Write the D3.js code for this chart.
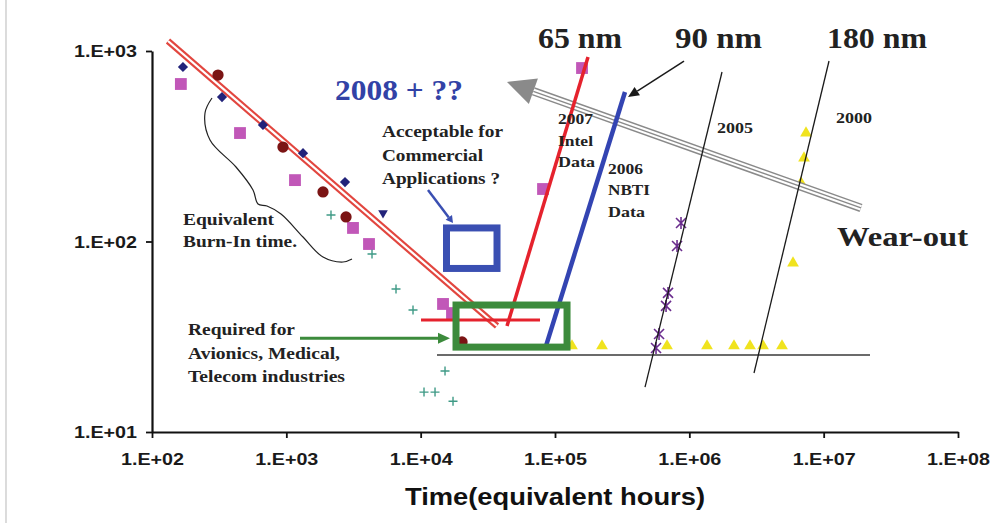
<!DOCTYPE html>
<html>
<head>
<meta charset="utf-8">
<script src="https://cdn.jsdelivr.net/npm/d3@7"></script>
<style>
  html, body { margin: 0; padding: 0; background: #fff; }
  svg { display: block; }
</style>
</head>
<body>
<svg id="chart" width="995" height="523"></svg>
<script>
// ---------- data (time in equivalent hours, y = failure rate) ----------
const xTickValues = [1e2, 1e3, 1e4, 1e5, 1e6, 1e7, 1e8];
const xTickLabels = ["1.E+02", "1.E+03", "1.E+04", "1.E+05", "1.E+06", "1.E+07", "1.E+08"];
const yTickValues = [1e1, 1e2, 1e3];
const yTickLabels = ["1.E+01", "1.E+02", "1.E+03"];
const xAxisTitle = "Time(equivalent hours)";

const navyDiamonds = [[170, 824], [332, 573], [670, 409], [1331, 291], [2734, 205]];
const navyTriangle = [[5245, 141]];
const darkRedCircles = [[310, 748], [944, 313], [1875, 182], [2782, 134.5], [20320, 29.7]];
const pinkSquares = [[164, 671], [452, 371], [1160, 210], [3135, 117.8], [4125, 97], [14670, 47], [17110, 42.1], [81440, 188.6], [158900, 814]];
const tealPlus = [[2150, 137.8], [4343, 86], [6553, 56.3], [8770, 43.7], [15180, 20.9], [10590, 16.2], [12790, 16.2], [17410, 14.5]];
const purpleStars = [[867000, 125], [810000, 94.7], [694000, 53.7], [671000, 45.9], [595000, 32.7], [565000, 27.6]];
const yellowTriangles = [[133800, 28.3], [223900, 28.3], [682000, 28.3], [1354000, 28.3], [2150000, 28.3], [2829000, 28.3], [3536000, 28.3], [4898000, 28.3], [7390000, 371], [7140000, 274], [6783000, 203], [5914000, 77.1]];

const burnInLine = [[131.5, 1128], [37010, 36.0]];
const redHLine = [[10060, 38.7], [77350, 38.7]];
const intel65Line = [[43930, 36.0], [176100, 930]];
const nbti2006Line = [[85730, 28.3], [332000, 609]];
const line90nm = [[467900, 17.2], [1751000, 776]];
const line180nm = [[3030000, 20.4], [10960000, 886]];
const baseLine = [[13230, 25.4], [22130000, 25.4]];
const wearOutArrow = [[18970000, 150], [43930, 688]];
const greenBox = [[18330, 46.4], [122900, 27.9]];
const blueBox = [[15570, 117.8], [37010, 72.2]];
const blueArrow = [[11340, 186.3], [17410, 125]];
const greenArrow = [[1264, 31.1], [16530, 31.1]];
const blackArrow = [[912800, 886], [349600, 573]];

// ---------- setup ----------
const svg = d3.select("#chart");
const x = d3.scaleLog().domain([1e2, 1e8]).range([152, 958]);
const y = d3.scaleLog().domain([10, 1000]).range([432, 51]);
const P = d => [x(d[0]), y(d[1])];

const SERIF = "'Liberation Serif', 'Times New Roman', serif";
const SANS = "'Liberation Sans', Arial, sans-serif";

// frame line on the left
svg.append("line").attr("x1", 6).attr("x2", 6).attr("y1", 0).attr("y2", 523)
  .attr("stroke", "#c4c4c4").attr("stroke-width", 1.2);

function seg(data, color, width, g) {
  const a = P(data[0]), b = P(data[1]);
  return (g || svg).append("line").attr("x1", a[0]).attr("y1", a[1]).attr("x2", b[0]).attr("y2", b[1])
    .attr("stroke", color).attr("stroke-width", width).attr("stroke-linecap", "butt");
}
function head(tip, from, len, hw, color) {
  const dx = tip[0] - from[0], dy = tip[1] - from[1];
  const L = Math.hypot(dx, dy), ux = dx / L, uy = dy / L;
  const bx = tip[0] - ux * len, by = tip[1] - uy * len;
  svg.append("polygon").attr("points", [
    [tip[0], tip[1]], [bx - uy * hw, by + ux * hw], [bx + uy * hw, by - ux * hw]
  ].map(p => p.join(",")).join(" ")).attr("fill", color);
  return [bx, by];
}
function label(t, lx, ly, size, width, opts = {}) {
  const el = svg.append("text").attr("x", lx).attr("y", ly)
    .attr("font-family", opts.family || SERIF).attr("font-weight", "bold")
    .attr("font-size", size).attr("fill", opts.color || "#222")
    .text(t);
  if (width) el.attr("textLength", width).attr("lengthAdjust", "spacingAndGlyphs");
  return el;
}

// ---------- axes ----------
const xAxis = svg.append("g").attr("transform", "translate(0,432)")
  .call(d3.axisBottom(x).tickValues(xTickValues).tickFormat((d, i) => xTickLabels[i]).tickSize(6).tickSizeOuter(0));
const yAxis = svg.append("g").attr("transform", "translate(152,0)")
  .call(d3.axisLeft(y).tickValues(yTickValues).tickFormat((d, i) => yTickLabels[i]).tickSize(6).tickSizeOuter(0));
[xAxis, yAxis].forEach(g => {
  g.select(".domain").attr("stroke", "#111").attr("stroke-width", 2.2);
  g.selectAll(".tick line").attr("stroke", "#111").attr("stroke-width", 1.8);
  g.selectAll(".tick text").attr("font-family", SANS).attr("font-weight", "bold")
    .attr("font-size", 16).attr("fill", "#1a1a1a")
    .attr("textLength", 63).attr("lengthAdjust", "spacingAndGlyphs");
});
xAxis.selectAll(".tick text").attr("y", 0).attr("dy", 0).attr("transform", "translate(0,33)");
yAxis.selectAll(".tick text").attr("x", -15).attr("dy", "0.36em");

svg.append("text").attr("x", 555).attr("y", 505).attr("text-anchor", "middle")
  .attr("font-family", SANS).attr("font-weight", "bold").attr("font-size", 23).attr("fill", "#111")
  .attr("textLength", 300).attr("lengthAdjust", "spacingAndGlyphs")
  .text(xAxisTitle);

// ---------- burn-in double line ----------
seg(burnInLine, "#e2463f", 6.5);
seg(burnInLine, "#ffffff", 2.2);

// ---------- markers ----------
const sym = d3.symbol();
svg.append("g").selectAll("path").data(navyDiamonds).join("path")
  .attr("transform", d => `translate(${P(d)}) rotate(45)`)
  .attr("d", sym.type(d3.symbolSquare).size(52)()).attr("fill", "#22237a");
svg.append("g").selectAll("path").data(navyTriangle).join("path")
  .attr("transform", d => `translate(${P(d)}) rotate(180)`)
  .attr("d", d3.symbol().type(d3.symbolTriangle).size(40)()).attr("fill", "#22237a");
svg.append("g").selectAll("path").data(pinkSquares).join("path")
  .attr("transform", d => `translate(${P(d)})`)
  .attr("d", d3.symbol().type(d3.symbolSquare).size(140)()).attr("fill", "#c157b8");
svg.append("g").selectAll("path").data(darkRedCircles).join("path")
  .attr("transform", d => `translate(${P(d)})`)
  .attr("d", d3.symbol().type(d3.symbolCircle).size(100)()).attr("fill", "#7b1414");
svg.append("g").selectAll("path").data(tealPlus).join("path")
  .attr("transform", d => `translate(${P(d)})`)
  .attr("d", "M-4.5,0H4.5M0,-4.5V4.5").attr("stroke", "#3f9a86").attr("stroke-width", 1.4).attr("fill", "none");
svg.append("g").selectAll("path").data(purpleStars).join("path")
  .attr("transform", d => `translate(${P(d)})`)
  .attr("d", "M-5,-5L5,5M-5,5L5,-5M0,-6V6").attr("stroke", "#6b2d8e").attr("stroke-width", 1.6).attr("fill", "none");
svg.append("g").selectAll("path").data(yellowTriangles).join("path")
  .attr("transform", d => `translate(${P(d)})`)
  .attr("d", d3.symbol().type(d3.symbolTriangle).size(60)()).attr("fill", "#f0e31e");

// ---------- wear-out arrow (under the technology lines) ----------
{
  const tail = P(wearOutArrow[0]), tip = P(wearOutArrow[1]);
  const base = head(tip, tail, 28, 13.5, "#8a8a8a");
  [[8.5, "#8a8a8a"], [5.5, "#ffffff"], [1.4, "#8a8a8a"]].forEach(([w, c]) => {
    svg.append("line").attr("x1", tail[0]).attr("y1", tail[1])
      .attr("x2", base[0]).attr("y2", base[1])
      .attr("stroke", c).attr("stroke-width", w);
  });
}

// ---------- reference lines ----------
seg(baseLine, "#3a3a3a", 1.5);
seg(line90nm, "#1a1a1a", 1.3);
seg(line180nm, "#1a1a1a", 1.3);

// ---------- technology lines ----------
seg(redHLine, "#e5222d", 3);
seg(intel65Line, "#e5222d", 3.5);
seg(nbti2006Line, "#3344b2", 4.5);

// ---------- boxes ----------
function box(data, color) {
  const a = P(data[0]), b = P(data[1]);
  svg.append("rect").attr("x", Math.min(a[0], b[0])).attr("y", Math.min(a[1], b[1]))
    .attr("width", Math.abs(b[0] - a[0])).attr("height", Math.abs(b[1] - a[1]))
    .attr("fill", "none").attr("stroke", color).attr("stroke-width", 7);
}
box(greenBox, "#3c8b3c");
box(blueBox, "#3a4fb2");

// ---------- annotation arrows ----------
{
  const a = P(blueArrow[0]), b = P(blueArrow[1]);
  const base = head(b, a, 7, 4, "#3a4fb2");
  svg.append("line").attr("x1", a[0]).attr("y1", a[1]).attr("x2", base[0]).attr("y2", base[1])
    .attr("stroke", "#3a4fb2").attr("stroke-width", 2.5);
}
{
  const a = P(greenArrow[0]), b = P(greenArrow[1]);
  const base = head(b, a, 12, 5.5, "#3c8b3c");
  svg.append("line").attr("x1", a[0]).attr("y1", a[1]).attr("x2", base[0]).attr("y2", base[1])
    .attr("stroke", "#3c8b3c").attr("stroke-width", 3);
}
{
  const a = P(blackArrow[0]), b = P(blackArrow[1]);
  const base = head(b, a, 11, 5, "#1a1a1a");
  svg.append("line").attr("x1", a[0]).attr("y1", a[1]).attr("x2", base[0]).attr("y2", base[1])
    .attr("stroke", "#1a1a1a").attr("stroke-width", 1.5);
}

// ---------- brace ----------
const bracePts = [[212, 98], [205, 113], [210, 140], [236, 167], [253, 190], [258, 204], [267, 206], [281, 214], [303, 237], [323, 257], [343, 262], [352, 259]];
svg.append("path").attr("d", d3.line().curve(d3.curveCatmullRom)(bracePts))
  .attr("fill", "none").attr("stroke", "#222").attr("stroke-width", 1.2);

// ---------- text annotations ----------
label("65 nm", 538, 48, 30, 84);
label("90 nm", 675, 48, 30, 87);
label("180 nm", 827, 48, 30, 100);
label("2008 + ??", 335, 100, 30, 128, { color: "#3242a6" });
label("Acceptable for", 382, 137, 17, 121);
label("Commercial", 382, 161, 17, 101);
label("Applications ?", 382, 184, 17, 118);
label("2007", 558, 124, 15.5, 35);
label("Intel", 558, 146, 15.5, 35);
label("Data", 558, 167, 15.5, 37);
label("2006", 608, 174, 15.5, 35);
label("NBTI", 608, 195, 15.5, 42);
label("Data", 608, 217, 15.5, 37);
label("2005", 717, 133, 15.5, 36);
label("2000", 836, 123, 15.5, 36);
label("Wear-out", 837, 246, 28, 131);
label("Equivalent", 183, 225, 17, 91);
label("Burn-In time.", 183, 247, 17, 114);
label("Required for", 188, 335, 17, 107);
label("Avionics, Medical,", 188, 359, 17, 152);
label("Telecom industries", 188, 382, 17, 157);
</script>
</body>
</html>
